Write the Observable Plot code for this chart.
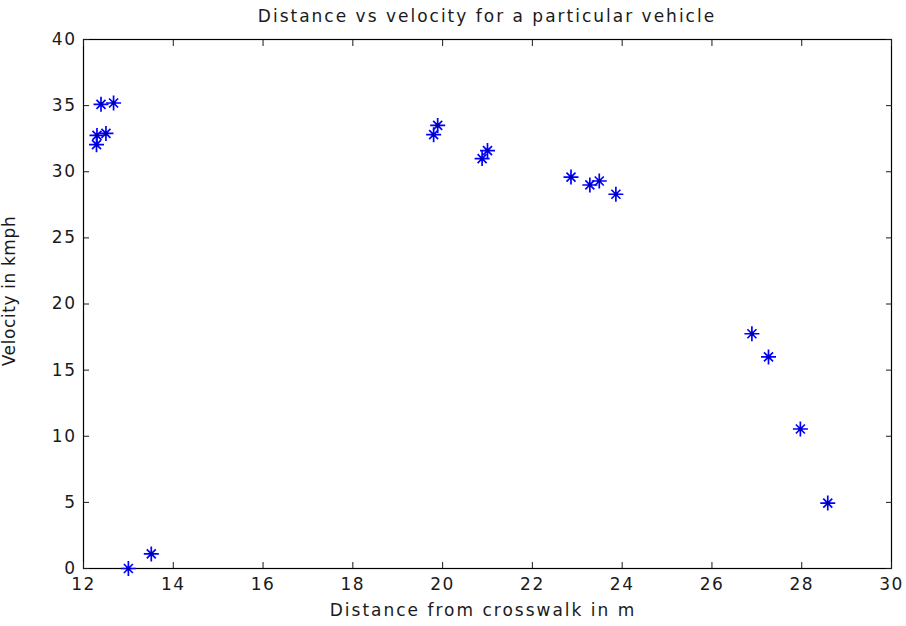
<!DOCTYPE html>
<html>
<head>
<meta charset="utf-8">
<script src="https://cdn.jsdelivr.net/npm/d3@7"></script>
<script src="https://cdn.jsdelivr.net/npm/@observablehq/plot@0.6"></script>
<style>
  html, body { margin: 0; padding: 0; background: #fff; }
  #wrap { position: relative; width: 906px; height: 626px; overflow: hidden; }
  .lbl { position: absolute; text-align: center; white-space: nowrap;
         font-family: "DejaVu Sans", sans-serif; font-size: 17px; line-height: 20px;
         letter-spacing: 2px; color: #1a1a1a; }
  #title { left: 83px; width: 808px; top: 6px; }
  #xlabel { left: 83px; width: 800px; top: 600px; }
  #ylabel { left: -141px; width: 300px; top: 281px; transform: rotate(-90deg); letter-spacing: 0.6px; }
</style>
</head>
<body>
<div id="wrap">
  <div id="title" class="lbl">Distance vs velocity for a particular vehicle</div>
  <div id="xlabel" class="lbl">Distance from crosswalk in m</div>
  <div id="ylabel" class="lbl">Velocity in kmph</div>
</div>
<script>
const distance = [12.29, 12.30, 12.39, 12.50, 12.67, 13.00, 13.51,
  19.80, 19.89, 20.88, 21.00, 22.86, 23.28, 23.49, 23.86,
  26.89, 27.26, 27.97, 28.58];
const velocity = [32.05, 32.75, 35.1, 32.9, 35.2, 0.0, 1.1,
  32.8, 33.5, 31.0, 31.6, 29.6, 29.0, 29.3, 28.3,
  17.75, 16.0, 10.55, 4.95];
const xTicks = [12, 14, 16, 18, 20, 22, 24, 26, 28, 30];
const yTicks = [0, 5, 10, 15, 20, 25, 30, 35, 40];

const data = distance.map((d, i) => ({distance: d, velocity: velocity[i]}));

// MATLAB-style asterisk: long plus arms, shorter diagonals
const matlabStar = {
  draw(context, size) {
    const a = 7.5, b = 4.5;
    context.moveTo(-a, 0); context.lineTo(a, 0);
    context.moveTo(0, -a); context.lineTo(0, a);
    context.moveTo(-b, -b); context.lineTo(b, b);
    context.moveTo(-b, b); context.lineTo(b, -b);
  }
};

const chart = Plot.plot({
  width: 906,
  height: 626,
  marginTop: 39,
  marginLeft: 83,
  marginRight: 15,
  marginBottom: 58,
  style: {fontFamily: '"DejaVu Sans", sans-serif', fontSize: "17px", letterSpacing: "1.5px", color: "#1a1a1a", background: "transparent"},
  x: {domain: [12, 30], ticks: xTicks},
  y: {domain: [0, 40], ticks: yTicks},
  marks: [
    Plot.frame({stroke: "#000", strokeWidth: 1.2}),
    Plot.axisX(xTicks, {anchor: "bottom", tickSize: -6, tickPadding: 15, label: null, fontSize: 17}),
    Plot.axisX(xTicks, {anchor: "top", tickSize: -6, tickFormat: () => "", label: null}),
    Plot.axisY(yTicks, {anchor: "left", tickSize: -6, tickPadding: 13, label: null, fontSize: 17}),
    Plot.axisY(yTicks, {anchor: "right", tickSize: -6, tickFormat: () => "", label: null}),
    Plot.dot(data, {x: "distance", y: "velocity", symbol: matlabStar, stroke: "#0000ff", strokeWidth: 1.7, r: 5}),
    Plot.dot(data, {x: "distance", y: "velocity", fill: "#0000aa", r: 2})
  ]
});
document.getElementById("wrap").prepend(chart);
chart.style.position = "absolute";
chart.style.left = "0";
chart.style.top = "0";
</script>
</body>
</html>
